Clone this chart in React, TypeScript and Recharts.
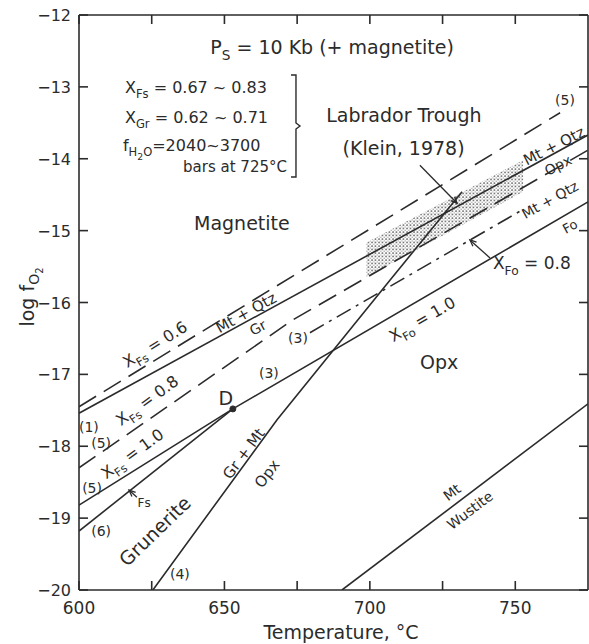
import { ComposedChart, Line, Area, XAxis, YAxis, ReferenceDot, ReferenceLine } from "recharts";

const INK = "#2b2b2b";
const FONT = "'DejaVu Sans', sans-serif";

// curves as [T (°C), log fO2]
const xfs06 = [[600, -17.45], [765.4, -13.36]];
const mtQtzGr = [[600, -17.54], [775, -13.67]];
const xfs08 = [[600, -18.3], [673.6, -16.24], [775, -13.88]];
const xfs10 = [[600, -18.82], [652.9, -17.48], [775, -14.6]];
const fsLine = [[600, -19.18], [652.9, -17.48]];
const xfo08 = [[679.4, -16.42], [751.6, -14.73]];
const grMtOpx = [[625.4, -20], [668.1, -17.63], [706.9, -15.69], [731.7, -14.46]];
const mtWus = [[690.4, -20], [775, -17.41]];
const pointD = [652.9, -17.48];

// Labrador Trough field
const troughT = [698.7, 752.7];
const troughLow = [-15.65, -14.46];
const troughHigh = [-15.17, -14.02];

const X_MIN = 600;
const X_MAX = 775;
const Y_MIN = -20;
const Y_MAX = -12;
const xTicks = [600, 625, 650, 675, 700, 725, 750];
const yTicks = [-20, -19, -18, -17, -16, -15, -14, -13, -12];

const arrows = [
  [[717.2, -14.09], [730.0, -14.62]],
  [[741.3, -15.38], [734.4, -15.13]],
  [[619.9, -18.71], [617.2, -18.61]],
];

type Part = [string, number];
type Note = { at: number[]; parts: Part[]; size?: number; angle?: number; anchor?: "start" | "middle" | "end" };

const t = (s: string): Part[] => [[s, 0]];

const notes: Note[] = [
  { at: [687, -12.445], parts: [["P", 0], ["S", 1], [" = 10 Kb (+ magnetite)", 0]], size: 19 },
  { at: [615.8, -13.0], parts: [["X", 0], ["Fs", 1], [" = 0.67 ~ 0.83", 0]], size: 16, anchor: "start" },
  { at: [615.8, -13.42], parts: [["X", 0], ["Gr", 1], [" = 0.62 ~ 0.71", 0]], size: 16, anchor: "start" },
  { at: [615.1, -13.81], parts: [["f", 0], ["H", 1], ["2", 2], ["O", 1], ["=2040~3700", 0]], size: 16, anchor: "start" },
  { at: [671.5, -14.115], parts: t("bars at 725°C"), size: 15, anchor: "end" },
  { at: [711.7, -13.39], parts: t("Labrador Trough"), size: 19 },
  { at: [711.6, -13.85], parts: t("(Klein, 1978)"), size: 19 },
  { at: [656.0, -14.89], parts: t("Magnetite"), size: 19 },
  { at: [723.8, -16.83], parts: t("Opx"), size: 19 },
  { at: [626.1, -19.18], parts: t("Grunerite"), size: 19, angle: 44 },
  { at: [728.2, -18.64], parts: t("Mt"), size: 14, angle: 37 },
  { at: [734.4, -18.89], parts: t("Wustite"), size: 14, angle: 37 },
  { at: [742.3, -15.45], parts: [["X", 0], ["Fo", 1], [" = 0.8", 0]], size: 17, anchor: "start" },
  { at: [718.0, -16.23], parts: [["X", 0], ["Fo", 1], [" = 1.0", 0]], size: 16, angle: 30 },
  { at: [626.1, -16.58], parts: [["X", 0], ["Fs", 1], [" = 0.6", 0]], size: 16, angle: 32 },
  { at: [657.4, -16.14], parts: t("Mt + Qtz"), size: 15, angle: 29 },
  { at: [661.5, -16.35], parts: t("Gr"), size: 14, angle: 29 },
  { at: [623.4, -17.36], parts: [["X", 0], ["Fs", 1], [" = 0.8", 0]], size: 16, angle: 36 },
  { at: [618.3, -18.1], parts: [["X", 0], ["Fs", 1], [" = 1.0", 0]], size: 16, angle: 36 },
  { at: [656.6, -18.1], parts: t("Gr + Mt"), size: 15, angle: 53 },
  { at: [664.6, -18.38], parts: t("Opx"), size: 15, angle: 53 },
  { at: [767.1, -13.18], parts: t("(5)"), size: 14 },
  { at: [763.3, -13.82], parts: t("Mt + Qtz"), size: 15, angle: 27 },
  { at: [764.7, -14.09], parts: t("Opx"), size: 14, angle: 27 },
  { at: [761.9, -14.57], parts: t("Mt + Qtz"), size: 14, angle: 29 },
  { at: [768.8, -14.94], parts: t("Fo"), size: 13, angle: 29 },
  { at: [603.4, -17.73], parts: t("(1)"), size: 14 },
  { at: [607.6, -17.96], parts: t("(5)"), size: 14 },
  { at: [604.5, -18.58], parts: t("(5)"), size: 14 },
  { at: [607.6, -19.18], parts: t("(6)"), size: 14 },
  { at: [665.3, -16.98], parts: t("(3)"), size: 14 },
  { at: [675.3, -16.49], parts: t("(3)"), size: 14 },
  { at: [634.7, -19.78], parts: t("(4)"), size: 14 },
  { at: [622.4, -18.78], parts: t("Fs"), size: 12 },
  { at: [650.5, -17.33], parts: t("D"), size: 19 },
];

const rows = (pts: number[][]) => pts.map(([x, v]) => ({ t: x, v }));
const troughRows = troughT.map((x, i) => ({ t: x, r: [troughLow[i], troughHigh[i]] }));

const SHIFT = [0, 0.32, 0.55];
const SCALE = [1, 0.72, 0.58];

function richText(cx: number, cy: number, n: Note) {
  const size = n.size ?? 17;
  let prev = 0;
  const spans = n.parts.map(([s, lvl], i) => {
    const dy = (SHIFT[lvl] - SHIFT[prev]) * size;
    prev = lvl;
    return (
      <tspan key={i} dy={dy} fontSize={size * SCALE[lvl]}>
        {s}
      </tspan>
    );
  });
  return (
    <text
      x={cx}
      y={cy + size * 0.36}
      textAnchor={n.anchor ?? "middle"}
      fill={INK}
      fontFamily={FONT}
      fontSize={size}
      style={{ whiteSpace: "pre" }}
      transform={n.angle ? `rotate(${-n.angle} ${cx} ${cy})` : undefined}
    >
      {spans}
    </text>
  );
}

const arrowShape = (p: any) => {
  const { x1, y1, x2, y2 } = p;
  const a = Math.atan2(y2 - y1, x2 - x1);
  const h = 7;
  const l = [x2 - h * Math.cos(a - 0.4), y2 - h * Math.sin(a - 0.4)];
  const r = [x2 - h * Math.cos(a + 0.4), y2 - h * Math.sin(a + 0.4)];
  return (
    <g>
      <line x1={x1} y1={y1} x2={x2} y2={y2} stroke={INK} strokeWidth={1.3} />
      <path d={`M${l[0]},${l[1]} L${x2},${y2} L${r[0]},${r[1]}`} fill="none" stroke={INK} strokeWidth={1.3} />
    </g>
  );
};

// plot box is 509 x 575 px; ticks point inward on all four sides
const XTick = (p: any) => {
  const { x, y, payload } = p;
  const v = payload.value;
  return (
    <g>
      <line x1={x} y1={y} x2={x} y2={y - 9} stroke={INK} strokeWidth={1.6} />
      <line x1={x} y1={y - 575} x2={x} y2={y - 566} stroke={INK} strokeWidth={1.6} />
      {v % 50 === 0 && (
        <text x={x} y={y + 24} textAnchor="middle" fill={INK} fontFamily={FONT} fontSize={17}>
          {v}
        </text>
      )}
    </g>
  );
};

const YTick = (p: any) => {
  const { x, y, payload } = p;
  return (
    <g>
      <line x1={x} y1={y} x2={x + 9} y2={y} stroke={INK} strokeWidth={1.6} />
      <line x1={x + 509} y1={y} x2={x + 500} y2={y} stroke={INK} strokeWidth={1.6} />
      <text x={x - 8} y={y + 6} textAnchor="end" fill={INK} fontFamily={FONT} fontSize={16}>
        {"\u2212" + Math.abs(payload.value)}
      </text>
    </g>
  );
};

const lineProps = {
  dataKey: "v",
  stroke: INK,
  strokeWidth: 1.6,
  dot: false,
  activeDot: false,
  isAnimationActive: false,
  type: "linear" as const,
};

export default function App() {
  return (
    <div style={{ position: "absolute", left: 0, top: 0, background: "#fff" }}>
      <ComposedChart width={589} height={644} margin={{ top: 15, right: 1, bottom: 0, left: 0 }}>
        <defs>
          <pattern id="stip" width="3.5" height="3.5" patternUnits="userSpaceOnUse">
            <circle cx="1" cy="1" r="0.8" fill="#444" />
            <circle cx="2.75" cy="2.75" r="0.6" fill="#777" />
          </pattern>
        </defs>
        <XAxis
          type="number"
          dataKey="t"
          domain={[X_MIN, X_MAX]}
          ticks={xTicks}
          interval={0}
          allowDataOverflow
          axisLine={false}
          tickLine={false}
          tickSize={0}
          tickMargin={0}
          height={54}
          tick={XTick}
          label={{
            content: () => (
              <text x={341} y={639} textAnchor="middle" fill={INK} fontFamily={FONT} fontSize={19}>
                Temperature, °C
              </text>
            ),
          }}
        />
        <YAxis
          type="number"
          domain={[Y_MIN, Y_MAX]}
          ticks={yTicks}
          interval={0}
          allowDataOverflow
          axisLine={false}
          tickLine={false}
          tickSize={0}
          tickMargin={0}
          width={79}
          tick={YTick}
          label={{
            content: () => (
              <text
                x={27}
                y={297}
                textAnchor="middle"
                fill={INK}
                fontFamily={FONT}
                fontSize={19}
                transform="rotate(-90 27 297)"
              >
                <tspan dy={7}>log f</tspan>
                <tspan dy={5} fontSize={14}>O</tspan>
                <tspan dy={4} fontSize={10}>2</tspan>
              </text>
            ),
          }}
        />
        <ReferenceLine segment={[{ x: X_MIN, y: Y_MIN }, { x: X_MAX, y: Y_MIN }]} stroke={INK} strokeWidth={1.6} ifOverflow="visible" />
        <ReferenceLine segment={[{ x: X_MIN, y: Y_MAX }, { x: X_MAX, y: Y_MAX }]} stroke={INK} strokeWidth={1.6} ifOverflow="visible" />
        <ReferenceLine segment={[{ x: X_MIN, y: Y_MIN }, { x: X_MIN, y: Y_MAX }]} stroke={INK} strokeWidth={1.6} ifOverflow="visible" />
        <ReferenceLine segment={[{ x: X_MAX, y: Y_MIN }, { x: X_MAX, y: Y_MAX }]} stroke={INK} strokeWidth={1.6} ifOverflow="visible" />
        <Area data={troughRows} dataKey="r" fill="url(#stip)" fillOpacity={1} stroke="none" isAnimationActive={false} />
        <Line {...lineProps} data={rows(xfs06)} strokeDasharray="20 9" />
        <Line {...lineProps} data={rows(mtQtzGr)} />
        <Line {...lineProps} data={rows(xfs08)} strokeDasharray="20 9" />
        <Line {...lineProps} data={rows(xfs10)} />
        <Line {...lineProps} data={rows(fsLine)} />
        <Line {...lineProps} data={rows(xfo08)} strokeDasharray="16 6 3 6" />
        <Line {...lineProps} data={rows(grMtOpx)} />
        <Line {...lineProps} data={rows(mtWus)} />
        <ReferenceDot x={pointD[0]} y={pointD[1]} r={3} fill={INK} stroke={INK} />
        {arrows.map((a, i) => (
          <ReferenceLine
            key={"ar" + i}
            segment={[{ x: a[0][0], y: a[0][1] }, { x: a[1][0], y: a[1][1] }]}
            shape={arrowShape}
          />
        ))}
        <ReferenceDot
          x={674.6}
          y={-13.544}
          r={0}
          shape={(p: any) => (
            <path
              d={`M${p.cx - 5},${p.cy - 51} L${p.cx},${p.cy - 51} L${p.cx},${p.cy - 3} L${p.cx + 4},${p.cy} L${p.cx},${p.cy + 3} L${p.cx},${p.cy + 51} L${p.cx - 5},${p.cy + 51}`}
              fill="none"
              stroke={INK}
              strokeWidth={1.4}
            />
          )}
        />
        {notes.map((n, i) => (
          <ReferenceDot key={"n" + i} x={n.at[0]} y={n.at[1]} r={0} shape={(p: any) => richText(p.cx, p.cy, n)} />
        ))}
      </ComposedChart>
    </div>
  );
}
